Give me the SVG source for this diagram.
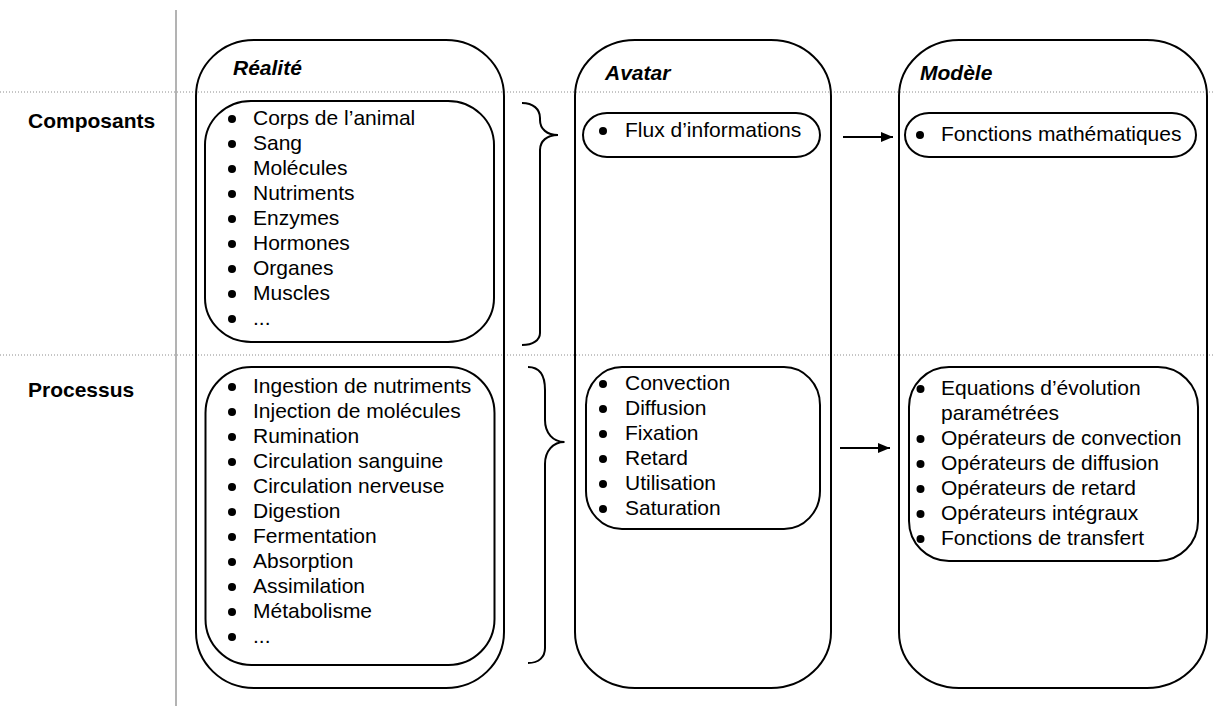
<svg xmlns="http://www.w3.org/2000/svg" width="1214" height="710" viewBox="0 0 1214 710">
<defs>
<marker id="ah" markerWidth="12" markerHeight="10" refX="12" refY="5" orient="auto" markerUnits="userSpaceOnUse">
<path d="M0,0 L12,5 L0,10 Z" fill="#000"/>
</marker>
</defs>
<style>
.box{fill:none;stroke:#000;stroke-width:2}
.t{font-family:"Liberation Sans",Arial,sans-serif;font-size:21px;fill:#000}
.h{font-family:"Liberation Sans",Arial,sans-serif;font-size:21px;font-weight:bold;fill:#000}
.hi{font-family:"Liberation Sans",Arial,sans-serif;font-size:21px;font-weight:bold;font-style:italic;fill:#000}
.dot{stroke:#8c8c8c;stroke-width:1;stroke-dasharray:1 2;fill:none}
.b{fill:#000}
.conn{fill:none;stroke:#000;stroke-width:2}
</style>
<rect width="1214" height="710" fill="#fff"/>
<g id="grid">
<line x1="176" y1="10" x2="176" y2="706" stroke="#808080" stroke-width="1.2"/>
<line class="dot" x1="0" y1="92" x2="1214" y2="92"/>
<line class="dot" x1="0" y1="355" x2="1214" y2="355"/>
</g>
<g id="row-labels">
<text class="h" x="28" y="128">Composants</text>
<text class="h" x="28" y="397">Processus</text>
</g>
<g id="realite">
<rect class="box" x="196" y="40" width="308" height="648" rx="58" ry="56"/>
<text class="hi" x="233" y="75">Réalité</text>
</g>
<g id="realite-composants">
<rect class="box" x="205" y="101" width="289" height="241" rx="46" ry="44"/>
<g class="b">
<circle cx="232" cy="119" r="4"/><circle cx="232" cy="144" r="4"/><circle cx="232" cy="169" r="4"/>
<circle cx="232" cy="194" r="4"/><circle cx="232" cy="219" r="4"/><circle cx="232" cy="244" r="4"/>
<circle cx="232" cy="269" r="4"/><circle cx="232" cy="294" r="4"/><circle cx="232" cy="319" r="4"/>
</g>
<text class="t" x="253" y="125">Corps de l’animal</text>
<text class="t" x="253" y="150">Sang</text>
<text class="t" x="253" y="175">Molécules</text>
<text class="t" x="253" y="200">Nutriments</text>
<text class="t" x="253" y="225">Enzymes</text>
<text class="t" x="253" y="250">Hormones</text>
<text class="t" x="253" y="275">Organes</text>
<text class="t" x="253" y="300">Muscles</text>
<text class="t" x="253" y="325">...</text>
</g>
<g id="realite-processus">
<rect class="box" x="205.5" y="367" width="289" height="298" rx="46" ry="46"/>
<g class="b">
<circle cx="232" cy="387" r="4"/><circle cx="232" cy="412" r="4"/><circle cx="232" cy="437" r="4"/>
<circle cx="232" cy="462" r="4"/><circle cx="232" cy="487" r="4"/><circle cx="232" cy="512" r="4"/>
<circle cx="232" cy="537" r="4"/><circle cx="232" cy="562" r="4"/><circle cx="232" cy="587" r="4"/>
<circle cx="232" cy="612" r="4"/><circle cx="232" cy="637" r="4"/>
</g>
<text class="t" x="253" y="393">Ingestion de nutriments</text>
<text class="t" x="253" y="418">Injection de molécules</text>
<text class="t" x="253" y="443">Rumination</text>
<text class="t" x="253" y="468">Circulation sanguine</text>
<text class="t" x="253" y="493">Circulation nerveuse</text>
<text class="t" x="253" y="518">Digestion</text>
<text class="t" x="253" y="543">Fermentation</text>
<text class="t" x="253" y="568">Absorption</text>
<text class="t" x="253" y="593">Assimilation</text>
<text class="t" x="253" y="618">Métabolisme</text>
<text class="t" x="253" y="643">...</text>
</g>
<g id="avatar">
<rect class="box" x="575" y="40" width="256" height="648" rx="60" ry="56"/>
<text class="hi" x="605" y="80">Avatar</text>
</g>
<g id="avatar-composants">
<rect class="box" x="583" y="113" width="237" height="44" rx="24" ry="22"/>
<circle class="b" cx="603" cy="131" r="4"/>
<text class="t" x="625" y="137">Flux d’informations</text>
</g>
<g id="avatar-processus">
<rect class="box" x="586" y="367" width="234" height="162" rx="36" ry="38"/>
<g class="b">
<circle cx="603" cy="384" r="4"/><circle cx="603" cy="409" r="4"/><circle cx="603" cy="434" r="4"/>
<circle cx="603" cy="459" r="4"/><circle cx="603" cy="484" r="4"/><circle cx="603" cy="509" r="4"/>
</g>
<text class="t" x="625" y="390">Convection</text>
<text class="t" x="625" y="415">Diffusion</text>
<text class="t" x="625" y="440">Fixation</text>
<text class="t" x="625" y="465">Retard</text>
<text class="t" x="625" y="490">Utilisation</text>
<text class="t" x="625" y="515">Saturation</text>
</g>
<g id="modele">
<rect class="box" x="899" y="40" width="308" height="648" rx="60" ry="56"/>
<text class="hi" x="920" y="80">Modèle</text>
</g>
<g id="modele-composants">
<rect class="box" x="905" y="113" width="291" height="44" rx="24" ry="22"/>
<circle class="b" cx="920" cy="135" r="4"/>
<text class="t" x="941" y="141">Fonctions mathématiques</text>
</g>
<g id="modele-processus">
<rect class="box" x="909" y="367" width="289" height="194" rx="40" ry="40"/>
<g class="b">
<circle cx="920.5" cy="389" r="4"/><circle cx="920.5" cy="439" r="4"/><circle cx="920.5" cy="464" r="4"/>
<circle cx="920.5" cy="489" r="4"/><circle cx="920.5" cy="514" r="4"/><circle cx="920.5" cy="539" r="4"/>
</g>
<text class="t" x="941" y="395">Equations d’évolution</text>
<text class="t" x="941" y="420">paramétrées</text>
<text class="t" x="941" y="445">Opérateurs de convection</text>
<text class="t" x="941" y="470">Opérateurs de diffusion</text>
<text class="t" x="941" y="495">Opérateurs de retard</text>
<text class="t" x="941" y="520">Opérateurs intégraux</text>
<text class="t" x="941" y="545">Fonctions de transfert</text>
</g>
<g id="connectors">
<path class="conn" d="M522,103 C533,103 540,109 540,118 L540,120 C540,129 547,135 558,135 C547,135 540,141 540,150 L540,333 C540,340 533,345 522,345"/>
<path class="conn" d="M528,367 C539,367 545,375 545,390 L545,420 C545,433 553,442 564.5,442 C553,442 545,451 545,464 L545,648 C545,657 539,663 528,663"/>
<line class="conn" x1="843" y1="137" x2="893" y2="137" marker-end="url(#ah)"/>
<line class="conn" x1="840" y1="448" x2="890" y2="448" marker-end="url(#ah)"/>
</g>
</svg>
